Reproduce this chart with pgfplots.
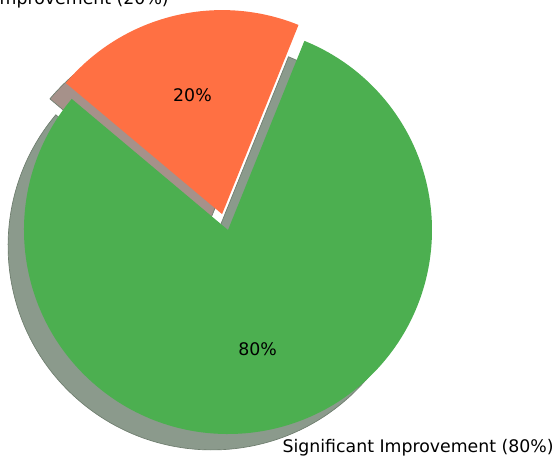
\documentclass[border=0pt]{standalone}
\usepackage{pgfplots}
\pgfplotsset{compat=1.18}
\usepackage{fontspec}
\setmainfont{DejaVu Sans}

\definecolor{sliceGreen}{RGB}{76,175,80}
\definecolor{sliceOrange}{RGB}{255,112,67}
\definecolor{shadGreen}{RGB}{139,154,140}
\definecolor{shadOrange}{RGB}{166,145,138}
\definecolor{shadEdge}{RGB}{110,125,110}

% slice values (percent)
\def\valA{80}
\def\valB{20}
\def\startang{140}

\begin{document}
\begin{tikzpicture}
\pgfmathsetmacro\aS{\startang}
\pgfmathsetmacro\aM{\startang+3.6*\valA}
\pgfmathsetmacro\aE{\aM+3.6*\valB}
\pgfmathsetmacro\midA{(\aS+\aM)/2}
\pgfmathsetmacro\midB{(\aM+\aE)/2}
% explode offset of the small slice
\def\ox{-0.029}
\def\oy{0.078}
\def\sh{0.078}
\def\R{153pt}
\begin{axis}[
    hide axis,
    scale only axis,
    width=418.5pt, height=343.5pt,
    xmin=-1.1176, xmax=1.6176,
    ymin=-1.1176, ymax=1.1275,
    clip=false,
  ]
  % shadows
  \filldraw[fill=shadGreen, draw=shadEdge, line width=0.5pt]
    (axis cs:-\sh,-\sh) -- (axis cs:{-\sh+cos(\aS)},{-\sh+sin(\aS)})
    arc[start angle=\aS, end angle=\aM, radius=\R] -- cycle;
  \filldraw[fill=shadOrange, draw=shadEdge, line width=0.5pt]
    (axis cs:{\ox-\sh},{\oy-\sh}) -- (axis cs:{\ox-\sh+cos(\aM)},{\oy-\sh+sin(\aM)})
    arc[start angle=\aM, end angle=\aE, radius=\R] -- cycle;
  % wedges
  \fill[sliceGreen]
    (axis cs:0,0) -- (axis cs:{cos(\aS)},{sin(\aS)})
    arc[start angle=\aS, end angle=\aM, radius=\R] -- cycle;
  \fill[sliceOrange]
    (axis cs:\ox,\oy) -- (axis cs:{\ox+cos(\aM)},{\oy+sin(\aM)})
    arc[start angle=\aM, end angle=\aE, radius=\R] -- cycle;
  % percentages
  \node[font=\fontsize{13}{15}\selectfont] at (axis cs:{0.6*cos(\midA)},{0.6*sin(\midA)}) {80\%};
  \node[font=\fontsize{13}{15}\selectfont] at (axis cs:{\ox+0.6*cos(\midB)},{\oy+0.6*sin(\midB)}) {20\%};
  % labels
  \node[font=\fontsize{13}{15}\selectfont, anchor=west, inner sep=0pt]
    at (axis cs:{1.1*cos(\midA)},{1.1*sin(\midA)}) {Significant Improvement (80\%)};
  \node[font=\fontsize{13}{15}\selectfont, anchor=base east, inner sep=0pt]
    at (axis cs:-0.289,1.103) {Moderate Improvement (20\%)};
\end{axis}
\pgfresetboundingbox
\useasboundingbox (current axis.south west) rectangle (current axis.north east);
\end{tikzpicture}
\end{document}
